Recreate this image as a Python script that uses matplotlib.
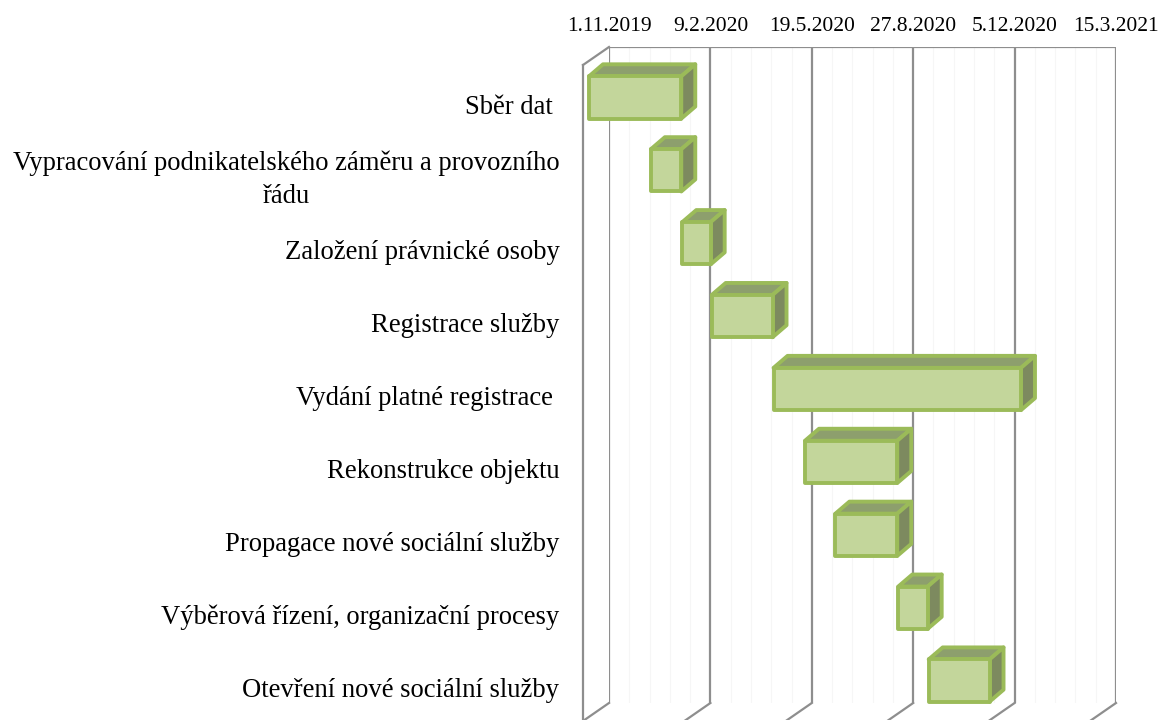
import matplotlib
matplotlib.use('Agg')
import matplotlib.pyplot as plt
import matplotlib.dates as mdates
from matplotlib.patches import Polygon
import numpy as np
from datetime import datetime

plt.rcParams['font.family'] = ['Liberation Serif', 'DejaVu Serif']

# --- data ---
tasks = [
    'Sběr dat ',
    'Vypracování podnikatelského záměru a provozního\nřádu',
    'Založení právnické osoby',
    'Registrace služby',
    'Vydání platné registrace ',
    'Rekonstrukce objektu',
    'Propagace nové sociální služby',
    'Výběrová řízení, organizační procesy',
    'Otevření nové sociální služby',
]
starts = ['2019-11-01', '2020-01-01', '2020-02-01', '2020-03-01', '2020-05-01',
          '2020-06-01', '2020-07-01', '2020-09-01', '2020-10-01']
ends = ['2020-01-31', '2020-01-31', '2020-02-29', '2020-04-30', '2020-12-31',
        '2020-08-31', '2020-08-31', '2020-09-30', '2020-11-30']
axis_start = '2019-11-01'
axis_days = 500
tick_step = 100

# --- colours ---
grid_col = '#8E8E8E'
minor_col = '#F6F6F6'
edge_col = '#9BBB59'
front_col = '#C3D69B'
top_col = '#8D9F6D'
side_col = '#7D8A5F'

W, H = 1159, 720
fig = plt.figure(figsize=(W / 100, H / 100), dpi=100)
ax = fig.add_axes([609 / W, 1 - 703 / H, 507 / W, 656 / H])

x0 = mdates.date2num(datetime.strptime(axis_start, '%Y-%m-%d'))
x1 = x0 + axis_days
n = len(tasks)
ax.set_xlim(x0, x1)
ax.set_ylim(n - 0.5, -0.5)
ax.set_facecolor('none')
for sp in ax.spines.values():
    sp.set_visible(False)

# depth of the 3D box in data units (26 px left, 18 px down)
px_x = axis_days / 507
px_y = n / 656
DX, DY = -26 * px_x, 18 * px_y

# walls and grid
major = np.arange(x0, x1 + 1, tick_step)
minor = np.arange(x0, x1 + 1, 20)
for m in minor:
    if m not in major:
        ax.plot([m, m], [-0.5, n - 0.5], color=minor_col, lw=0.8, zorder=1)
for m in major:
    ax.plot([m, m], [-0.5, n - 0.5], color=grid_col, lw=1.6, zorder=2)
    ax.plot([m, m + DX], [n - 0.5, n - 0.5 + DY], color=grid_col, lw=1.6,
            zorder=2, clip_on=False)
ax.plot([x0, x1], [-0.5, -0.5], color=grid_col, lw=1.6, zorder=2)
ax.plot([x0, x0 + DX], [-0.5, -0.5 + DY], color=grid_col, lw=1.6, zorder=2,
        clip_on=False)
ax.plot([x0 + DX, x0 + DX], [-0.5 + DY, n - 0.5 + DY], color=grid_col, lw=1.6,
        zorder=2, clip_on=False)

# bars: front face shifted (-20, +14) px, back face (-6, +2) px
h = 0.29
front_off = (-20 * px_x, 14 * px_y)
back_off = (-6 * px_x, 2 * px_y)
for i, (s, e) in enumerate(zip(starts, ends)):
    s = mdates.date2num(datetime.strptime(s, '%Y-%m-%d'))
    e = mdates.date2num(datetime.strptime(e, '%Y-%m-%d'))
    bx0, bx1, by = s + back_off[0], e + back_off[0], i + back_off[1]
    fx0, fx1, fy = s + front_off[0], e + front_off[0], i + front_off[1]
    top = [(fx0, fy - h), (fx1, fy - h), (bx1, by - h), (bx0, by - h)]
    side = [(fx1, fy - h), (bx1, by - h), (bx1, by + h), (fx1, fy + h)]
    front = [(fx0, fy - h), (fx1, fy - h), (fx1, fy + h), (fx0, fy + h)]
    for pts, col in [(top, top_col), (side, side_col), (front, front_col)]:
        ax.add_patch(Polygon(pts, closed=True, facecolor=col, edgecolor=edge_col,
                             lw=2.8, joinstyle='round', zorder=5, clip_on=False))

# category labels
for i, t in enumerate(tasks):
    ax.annotate(t, xy=(x0 + DX, i + DY), xytext=(-17, -4),
                textcoords='offset points', ha='right', va='center',
                multialignment='center', linespacing=1.4, fontsize=19.2,
                annotation_clip=False)

# date ticks on top
ax.xaxis.tick_top()
ax.set_xticks(major)
labels = []
for m in major:
    d = mdates.num2date(m)
    labels.append(f'{d.day}.{d.month}.{d.year}')
ax.set_xticklabels(labels)
ax.tick_params(axis='x', length=0, pad=8, labelsize=15.5)
ax.set_yticks([])

fig.savefig('out.png', dpi=100)
